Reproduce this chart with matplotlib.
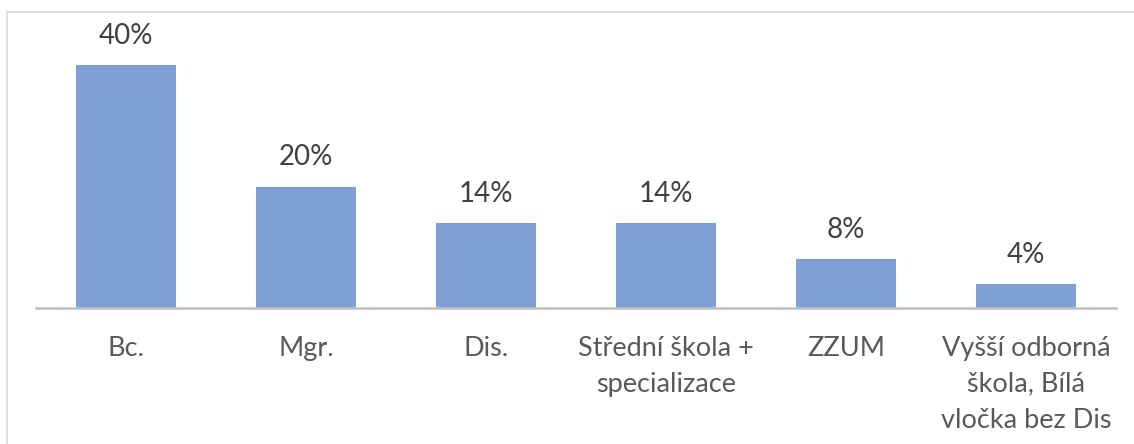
import matplotlib
matplotlib.use("Agg")
import matplotlib.pyplot as plt
from matplotlib.patches import Rectangle

# data
categories = ["Bc.", "Mgr.", "Dis.", "Střední škola +\nspecializace", "ZZUM",
              "Vyšší odborná\nškola, Bílá\nvločka bez Dis"]
values = [40, 20, 14, 14, 8, 4]

W, H = 1134, 444
fig = plt.figure(figsize=(W / 100, H / 100), dpi=100)
plt.rcParams['font.family'] = ['Lato', 'DejaVu Sans']

# chart frame
fig.patches.append(Rectangle((7 / W, -0.1), 1.2, (H - 12) / H + 0.1,
                             transform=fig.transFigure, fill=False,
                             edgecolor="#D9D9D9", linewidth=1.2))

ax = fig.add_axes([36 / W, (H - 308) / H, 1080 / W, (308 - 65) / H])
x = range(len(categories))
bars = ax.bar(x, values, width=100 / 180, color="#7F9FD5")
ax.set_xlim(-0.5, len(categories) - 0.5)
ax.set_ylim(0, 40)

for b, v in zip(bars, values):
    ax.annotate(f"{v}%", (b.get_x() + b.get_width() / 2, v),
                xytext=(0, 21), textcoords="offset points",
                ha="center", va="center", fontsize=20, color="#404040")

ax.set_xticks(list(x))
ax.set_xticklabels(categories, fontsize=19.5, color="#595959", linespacing=1.55,
                   va="top")
ax.tick_params(axis="x", length=0, pad=20)
ax.set_yticks([])
for s in ["top", "right", "left"]:
    ax.spines[s].set_visible(False)
ax.spines["bottom"].set_color("#BFBFBF")
ax.spines["bottom"].set_linewidth(1.8)

fig.savefig("out.png", dpi=100)
